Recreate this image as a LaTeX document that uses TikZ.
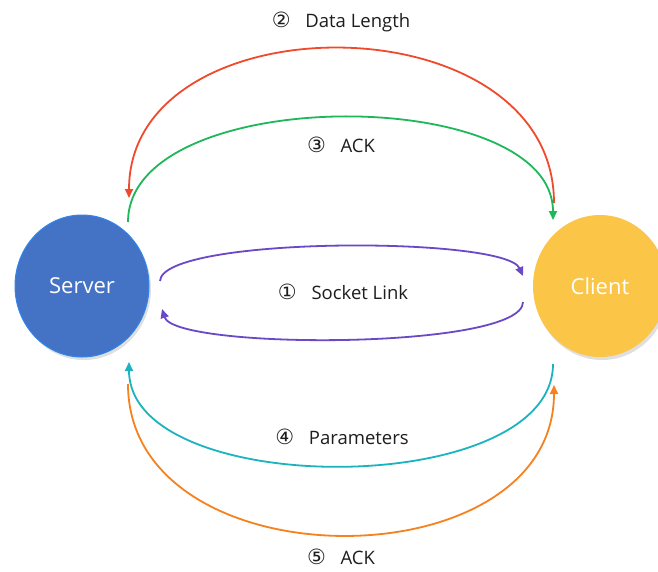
\documentclass[tikz,border=0pt]{standalone}
\usepackage{fontspec}
\setmainfont{Open Sans}
\newfontfamily\circfont{DejaVu Sans}
\usetikzlibrary{arrows.meta,shapes.geometric,shadows}
\definecolor{srvblue}{HTML}{4472C4}
\definecolor{srvedge}{HTML}{2F86EE}
\definecolor{cliyel}{HTML}{FBC548}
\definecolor{cred}{HTML}{F04A2C}
\definecolor{cgreen}{HTML}{1FB75A}
\definecolor{cpurple}{HTML}{6A48C8}
\definecolor{ccyan}{HTML}{19B4BE}
\definecolor{corange}{HTML}{F5821F}
\definecolor{txt}{HTML}{1E1E1E}
\newcommand{\cnum}[1]{{\circfont\fontsize{21}{22}\selectfont #1}\hspace{0.8em}}
\tikzset{
  party/.style={ellipse, minimum width=134pt, minimum height=142pt, inner sep=0pt,
    text=white, font=\fontsize{22}{26}\selectfont,
    drop shadow={opacity=0.25, shadow xshift=2pt, shadow yshift=-3pt}},
  link/.style={line width=1.8pt, -{Triangle[length=9pt,width=8pt]}},
  lbl/.style={text=txt, font=\fontsize{18.5}{22}\selectfont, inner sep=0pt},
}
\begin{document}
\begin{tikzpicture}[x=1pt,y=-1pt]
\useasboundingbox (0,0) rectangle (658,571);
\clip (0,0) rectangle (658,571);
\fill[white] (0,0) rectangle (658,571);
\node[party, fill=srvblue, draw=srvedge, line width=1pt] (srv) at (82,286) {Server};
\node[party, fill=cliyel] (cli) at (600,286) {Client};

% endpoints
\coordinate (r0) at (554,203);
\coordinate (r1) at (129,198);
\coordinate (g0) at (128,222);
\coordinate (g1) at (553,220);
\coordinate (p0) at (160,281);
\coordinate (p1) at (523,276);
\coordinate (q0) at (523,302);
\coordinate (q1) at (162,309);
\coordinate (c0) at (553,364);
\coordinate (c1) at (129,362);
\coordinate (o0) at (128,384);
\coordinate (o1) at (554,385);

\draw[link, cred] (r0) .. controls (554,-2) and (129,-2) .. (r1);
\draw[link, cgreen] (g0) .. controls (128,83) and (553,83) .. (g1);
\draw[link, cpurple] (p0) .. controls (162,236) and (505,236) .. (p1);
\draw[link, cpurple] (q0) .. controls (523,350) and (175,350) .. (q1);
\draw[link, ccyan] (c0) .. controls (553,500) and (129,500) .. (c1);
\draw[link, corange] (o0) .. controls (128,585) and (554,585) .. (o1);

\node[lbl] (l2) at (341,22) {\cnum{②}Data Length};
\node[lbl] (l3) at (341,145) {\cnum{③}ACK};
\node[lbl] (l1) at (343,292) {\cnum{①}Socket Link};
\node[lbl] (l4) at (342,437) {\cnum{④}Parameters};
\node[lbl] (l5) at (341,557) {\cnum{⑤}ACK};
\end{tikzpicture}
\end{document}
